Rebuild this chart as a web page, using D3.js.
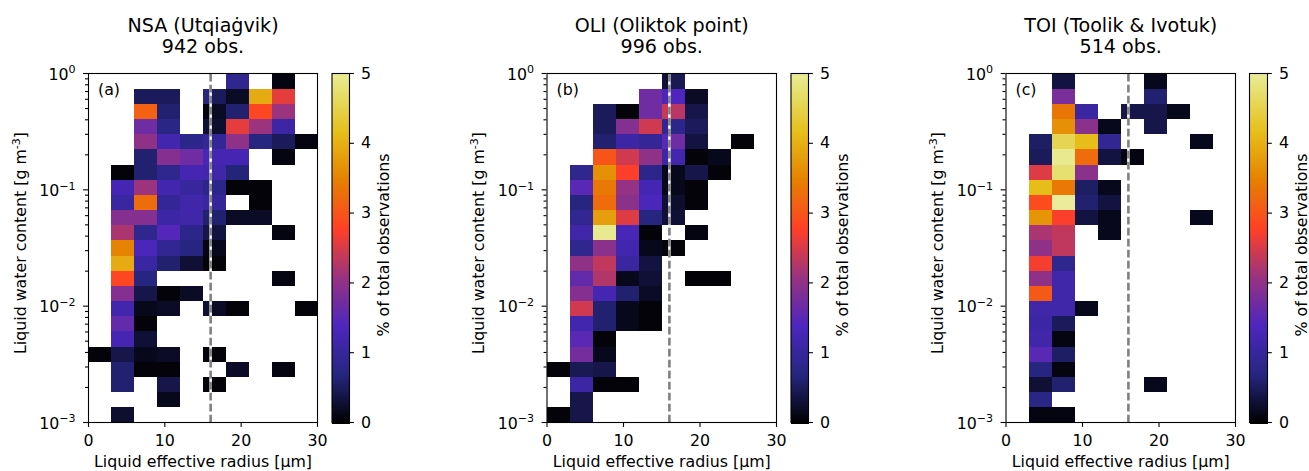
<!DOCTYPE html>
<html><head><meta charset="utf-8">
<script src="https://cdn.jsdelivr.net/npm/d3@7"></script>
<style>
html,body{margin:0;padding:0;background:#fff}
svg{display:block}
text{font-family:"DejaVu Sans",sans-serif;fill:#000}
</style></head><body><svg id="c" width="1309" height="471"></svg>
<script>
const radiusEdges=[0,3,6,9,12,15,16,18,21,24,27,30];
const rowCount=23;
const _=null;
const xTicks=[0,10,20,30];
const yTicks=[1e-3,1e-2,1e-1,1];
const colorTicks=[0,1,2,3,4,5];
const thresholdRadius=16;
const panelLabels=["(a)","(b)","(c)"];
const titlesTop=["NSA (Utqiaġvik)","OLI (Oliktok point)","TOI (Toolik & Ivotuk)"];
const obsCounts=[942,996,514];
const nsaValues=[
[_,_,_,_,_,_,_,.85,_,.1,_],
[_,_,.5,.5,_,.7,.5,.2,3.95,2.6,_],
[_,_,3.15,.6,_,.1,.2,.6,2.85,2.1,_],
[_,_,1.7,.75,_,.3,.25,2.6,2.1,1.1,_],
[_,_,2.0,1.2,.8,.95,.95,2.0,.7,.5,.1],
[_,_,.6,1.9,1.7,1.3,1.25,1.25,_,.1,_],
[_,.05,.6,.85,1.25,1.2,1.15,.65,_,_,_],
[_,1.25,2.1,1.2,1.0,.8,.8,.05,.05,_,_],
[_,1.05,3.25,.95,1.15,1.05,.95,_,.05,_,_],
[_,1.9,1.9,1.1,1.15,.6,.6,.2,.2,_,_],
[_,2.2,.85,1.45,.8,.4,.35,_,_,.1,_],
[_,3.5,1.35,.9,.7,.1,.15,_,_,_,_],
[_,3.95,1.05,.6,.3,.05,.05,_,_,_,_],
[_,2.85,.7,_,_,_,_,_,_,.1,_],
[_,1.9,.4,.05,.2,_,_,_,_,_,_],
[_,1.2,.15,.2,_,.3,.2,.05,_,_,.05],
[_,1.6,.05,_,_,_,_,_,_,_,_],
[_,1.25,.3,_,_,_,_,_,_,_,_],
[.05,.4,.15,.2,_,.05,.05,_,_,_,_],
[_,.6,.05,.05,_,_,_,.2,_,.1,_],
[_,.6,_,.4,_,.05,.05,_,_,_,_],
[_,_,_,.15,_,_,_,_,_,_,_],
[_,.25,_,_,_,_,_,_,_,_,_]];
const oliValues=[
[_,_,_,_,_,.3,.45,_,_,_,_],
[_,_,_,_,1.7,1.35,1.4,.2,_,_,_],
[_,_,.5,.05,1.7,2.4,2.3,.4,_,_,_],
[_,_,.5,1.9,2.45,.9,.8,.5,_,_,_],
[_,_,.6,1.1,.95,1.5,1.7,.35,_,.05,_],
[_,_,3.0,2.45,2.0,1.1,1.2,.05,.15,_,_],
[_,.85,3.65,2.75,.8,.15,.15,.4,.05,_,_],
[_,1.5,3.4,2.05,1.25,.15,.15,.05,_,_,_],
[_,.7,3.25,1.95,1.35,.3,.25,.05,_,_,_],
[_,.9,3.8,2.55,.7,.3,.3,_,_,_,_],
[_,1.15,4.95,1.3,.05,_,_,.1,_,_,_],
[_,.85,1.95,1.2,.15,.05,.05,_,_,_,_],
[_,2.0,2.35,1.05,.35,_,_,_,_,_,_],
[_,1.6,2.25,.15,.3,_,_,.03,.03,_,_],
[_,1.9,1.25,.6,.2,_,_,_,_,_,_],
[_,2.45,.6,.15,.05,_,_,_,_,_,_],
[_,1.2,.6,.15,.05,_,_,_,_,_,_],
[_,1.5,.05,_,_,_,_,_,_,_,_],
[_,1.75,.15,_,_,_,_,_,_,_,_],
[.05,.45,.4,_,_,_,_,_,_,_,_],
[_,1.1,.05,.05,_,_,_,_,_,_,_],
[_,.4,_,_,_,_,_,_,_,_,_],
[.05,.4,_,_,_,_,_,_,_,_,_]];
const toiValues=[
[_,_,.35,_,_,_,_,.15,_,_,_],
[_,_,1.8,_,_,_,_,.6,_,_,_],
[_,_,3.35,1.05,_,.4,.4,.4,.15,_,_],
[_,_,3.65,1.95,.15,_,_,.4,_,_,_],
[_,.55,4.55,4.15,.9,_,_,_,_,.15,_],
[_,.5,4.95,3.25,.35,.1,.1,_,_,_,_],
[_,2.55,4.75,1.95,_,_,_,_,_,_,_],
[_,4.15,3.4,.55,.15,_,_,_,_,_,_],
[_,2.9,5,.6,.35,_,_,_,_,_,_],
[_,3.7,2.75,.35,.15,_,_,_,_,.15,_],
[_,2.2,2.35,_,.15,_,_,_,_,_,_],
[_,2.0,2.35,_,_,_,_,_,_,_,_],
[_,2.7,.85,_,_,_,_,_,_,_,_],
[_,2.0,1.15,_,_,_,_,_,_,_,_],
[_,3.05,1.15,_,_,_,_,_,_,_,_],
[_,1.15,1.15,.15,_,_,_,_,_,_,_],
[_,1.1,.5,_,_,_,_,_,_,_,_],
[_,1.15,.1,_,_,_,_,_,_,_,_],
[_,1.5,.55,_,_,_,_,_,_,_,_],
[_,.7,.1,_,_,_,_,_,_,_,_],
[_,.3,.6,_,_,_,_,.15,_,_,_],
[_,.75,_,_,_,_,_,_,_,_,_],
[_,.1,.1,_,_,_,_,_,_,_,_]];
const panelValues=[nsaValues,oliValues,toiValues];

// CMRmap stops, truncated so value 5 falls at 0.9
const cmapStops=[0,.125,.25,.375,.5,.625,.75,.875,1];
const cmapColors=["rgb(0,0,0)","rgb(38,38,128)","rgb(77,38,191)","rgb(153,51,128)","rgb(255,64,38)","rgb(230,128,0)","rgb(230,191,26)","rgb(230,230,128)","rgb(255,255,255)"];
const cmap=d3.scaleLinear().domain(cmapStops).range(cmapColors).interpolate(d3.interpolateRgb);
const valueToT=d3.scaleLinear().domain([0,5]).range([0,.9]);
const color=v=>cmap(valueToT(v));

const rowEdges=d3.range(rowCount+1).map(i=>Math.pow(10,3*i/rowCount-3));
const layout=[{l:88.5,r:317.5,cl:332,cr:349.5},{l:547,r:776.5,cl:791,cr:808.5},{l:1006,r:1235.5,cl:1249.5,cr:1267.5}];
const plotTop=73.5,plotBottom=422.5,FS=15.8,TS=19.1;
const svg=d3.select("#c");

function sup(sel,base,exp,size){
  sel.text(null);
  sel.append("tspan").text(base);
  sel.append("tspan").attr("dy",-size*.42).style("font-size",(size*.7)+"px").text(exp);
}
function styleAxis(g){
  g.select(".domain").remove();
  g.selectAll("line").attr("stroke","#000").attr("stroke-width",1.1);
  g.selectAll("text").style("font-size",FS+"px").style("font-family",'"DejaVu Sans"').attr("fill","#000");
}
layout.forEach((p,pi)=>{
  const x=d3.scaleLinear().domain([0,30]).range([p.l,p.r]);
  const y=d3.scaleLog().domain([1e-3,1]).range([plotBottom,plotTop]);
  const g=svg.append("g");
  const vals=panelValues[pi];
  vals.forEach((row,ri)=>{
    row.forEach((v,ci)=>{
      if(v===null) return;
      g.append("rect")
        .attr("x",x(radiusEdges[ci]))
        .attr("width",x(radiusEdges[ci+1])-x(radiusEdges[ci]))
        .attr("y",y(rowEdges[rowCount-ri]))
        .attr("height",y(rowEdges[rowCount-ri-1])-y(rowEdges[rowCount-ri]))
        .attr("fill",color(v))
        .attr("shape-rendering","crispEdges");
    });
  });
  g.append("line").attr("x1",x(thresholdRadius)).attr("x2",x(thresholdRadius)).attr("y1",y(1e-3)).attr("y2",y(1))
    .attr("stroke","#fff").attr("stroke-width",2.6);
  g.append("line").attr("x1",x(thresholdRadius)).attr("x2",x(thresholdRadius)).attr("y1",y(1e-3)).attr("y2",y(1))
    .attr("stroke","#808080").attr("stroke-width",2.6).attr("stroke-dasharray","7.7,3.3");
  g.append("rect").attr("x",p.l).attr("y",plotTop).attr("width",p.r-p.l).attr("height",plotBottom-plotTop)
    .attr("fill","none").attr("stroke","#000").attr("stroke-width",1.1);

  const ax=g.append("g")
    .call(d3.axisBottom(x).tickValues(xTicks).tickSize(4.9).tickPadding(8).tickFormat(d3.format("d")));
  ax.attr("transform",`translate(-0.5,${plotBottom-.5})`);
  styleAxis(ax);

  const minor=[];
  yTicks.slice(0,3).forEach(d=>{d3.range(2,10).forEach(m=>minor.push(d*m));});
  const ayMinor=g.append("g").attr("transform",`translate(${p.l-.5},-0.5)`)
    .call(d3.axisLeft(y).tickValues(minor).tickSize(3).tickFormat(""));
  styleAxis(ayMinor);
  const ay=g.append("g").attr("transform",`translate(${p.l-.5},-0.5)`)
    .call(d3.axisLeft(y).tickValues(yTicks).tickSize(4.9).tickPadding(7.5));
  styleAxis(ay);
  ay.selectAll("text").attr("dy","0.4em").each(function(d){
    sup(d3.select(this),"10",String(Math.round(Math.log10(d))).replace("-","−"),FS);
  });

  const cx=(p.l+p.r)/2;
  g.append("text").attr("x",cx).attr("y",32).attr("text-anchor","middle").style("font-size",TS+"px").text(titlesTop[pi]);
  g.append("text").attr("x",cx).attr("y",53).attr("text-anchor","middle").style("font-size",TS+"px").text(obsCounts[pi]+" obs.");
  g.append("text").attr("x",p.l+9.5).attr("y",95).style("font-size",FS+"px").text(panelLabels[pi]);
  g.append("text").attr("x",cx).attr("y",466.5).attr("text-anchor","middle").style("font-size",FS+"px").text("Liquid effective radius [µm]");
  const yl=g.append("text").attr("transform",`translate(${p.l-63},243) rotate(-90)`).attr("text-anchor","middle").style("font-size",FS+"px");
  yl.append("tspan").text("Liquid water content [g m");
  yl.append("tspan").attr("dy",-6).style("font-size",(FS*.7)+"px").text("-3");
  yl.append("tspan").attr("dy",6).text("]");

  const cy=d3.scaleLinear().domain([0,5]).range([plotBottom,plotTop]);
  const levels=d3.range(256).map(i=>i/256*5);
  g.selectAll(null).data(levels).enter().append("rect")
    .attr("x",p.cl).attr("width",p.cr-p.cl)
    .attr("y",d=>cy(d+5/256)).attr("height",d=>cy(d)-cy(d+5/256)+1)
    .attr("fill",d=>color(d)).attr("shape-rendering","crispEdges");
  g.append("rect").attr("x",p.cl).attr("y",plotTop).attr("width",p.cr-p.cl).attr("height",plotBottom-plotTop)
    .attr("fill","none").attr("stroke","#000").attr("stroke-width",1.1);
  const ac=g.append("g").attr("transform",`translate(${p.cr-.5},-0.5)`)
    .call(d3.axisRight(cy).tickValues(colorTicks).tickSize(4.9).tickPadding(7).tickFormat(d3.format("d")));
  styleAxis(ac);
  g.append("text").attr("transform",`translate(${p.cr+39.5},245) rotate(-90)`)
    .attr("text-anchor","middle").style("font-size",FS+"px").text("% of total observations");
});
</script></body></html>
